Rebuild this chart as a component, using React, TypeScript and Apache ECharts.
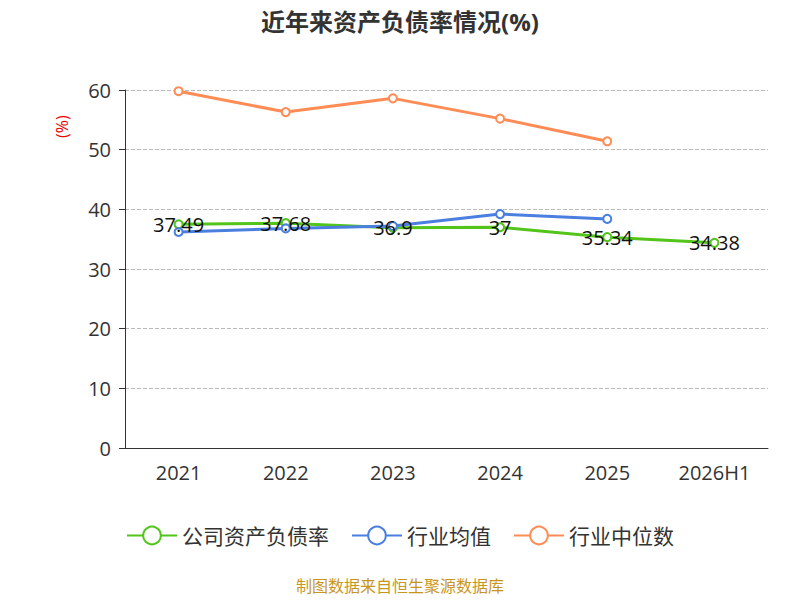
import React, { useEffect, useRef } from "react";
import * as echarts from "echarts";

const years = ["2021", "2022", "2023", "2024", "2025", "2026H1"];
const companyRatio = [37.49, 37.68, 36.9, 37, 35.34, 34.38];
const industryAvg = [36.2, 36.8, 37.2, 39.2, 38.4];
const industryMedian = [59.8, 56.3, 58.6, 55.2, 51.4];

const font = "'Open Sans', 'Noto Sans CJK SC', sans-serif";

export default function App() {
  const chartRef = useRef<HTMLDivElement>(null);

  useEffect(() => {
    if (!chartRef.current) return;
    const chart = echarts.init(chartRef.current, undefined, { renderer: "svg" });

    const option: echarts.EChartsOption = {
      animation: false,
      textStyle: { fontFamily: font },
      title: {
        text: "近年来资产负债率情况(%)",
        left: "center",
        top: -4,
        textStyle: { fontSize: 24, fontWeight: "bold", color: "#333", fontFamily: font },
      },
      grid: { left: 117, right: 24, top: 82, bottom: 152 },
      legend: {
        top: 512,
        itemWidth: 50,
        itemHeight: 22,
        itemGap: 22,
        textStyle: { fontSize: 21, color: "#333" },
        data: ["公司资产负债率", "行业均值", "行业中位数"],
      },
      xAxis: {
        type: "category",
        data: years,
        axisLine: { lineStyle: { color: "#333" } },
        axisTick: { length: 6 },
        axisLabel: { fontSize: 20, color: "#333", margin: 14 },
      },
      yAxis: {
        type: "value",
        min: 0,
        max: 60,
        interval: 10,
        axisLine: { show: true, lineStyle: { color: "#333" } },
        axisTick: { show: true, length: 6 },
        axisLabel: { fontSize: 20, color: "#333", margin: 14 },
        splitLine: { lineStyle: { type: "dashed", color: "#bbb" } },
      },
      series: [
        {
          name: "公司资产负债率",
          type: "line",
          data: companyRatio,
          symbol: "emptyCircle",
          symbolSize: 8,
          itemStyle: { color: "#52c41a" },
          lineStyle: { width: 3 },
          label: { show: true, position: "inside", fontSize: 20, color: "#111" },
          z: 3,
        },
        {
          name: "行业均值",
          type: "line",
          data: industryAvg,
          symbol: "emptyCircle",
          symbolSize: 8,
          itemStyle: { color: "#4a7fe0" },
          lineStyle: { width: 3 },
        },
        {
          name: "行业中位数",
          type: "line",
          data: industryMedian,
          symbol: "emptyCircle",
          symbolSize: 8,
          itemStyle: { color: "#ff8c55" },
          lineStyle: { width: 3 },
        },
      ],
      graphic: [
        {
          type: "text",
          x: 46,
          y: 130,
          rotation: Math.PI / 2,
          style: { text: "(%)", fill: "#e00", fontSize: 16, fontFamily: font },
        },
        {
          type: "text",
          left: "center",
          top: 570,
          style: {
            text: "制图数据来自恒生聚源数据库",
            fill: "#c8961e",
            fontSize: 16,
            fontFamily: font,
          },
        },
      ],
    };

    chart.setOption(option);
    return () => chart.dispose();
  }, []);

  return <div ref={chartRef} style={{ width: 784, height: 592 }} />;
}
